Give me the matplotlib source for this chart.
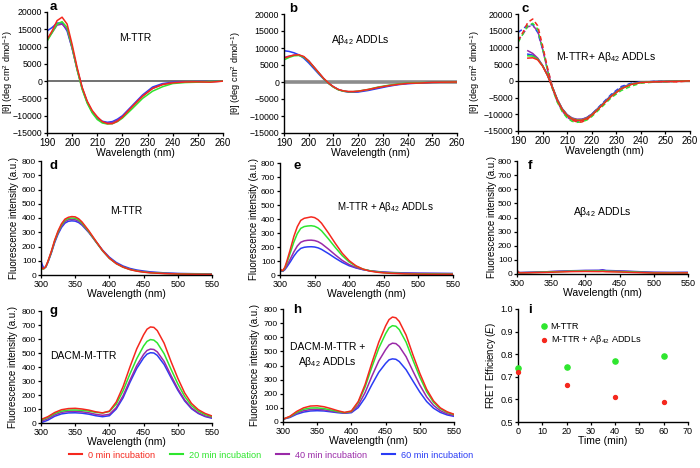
import numpy as np
import matplotlib
matplotlib.use('Agg')
import matplotlib.pyplot as plt
from matplotlib.lines import Line2D

plt.rcParams['font.family'] = ['Liberation Sans', 'DejaVu Sans']
plt.rcParams['mathtext.fontset'] = 'custom'
plt.rcParams['mathtext.rm'] = 'Liberation Sans'
plt.rcParams['mathtext.it'] = 'Liberation Sans:italic'
plt.rcParams['mathtext.bf'] = 'Liberation Sans:bold'

# colours for the incubation times
RED, GREEN, PURPLE, BLUE = '#f5281e', '#2ee62e', '#9a2aa8', '#2a3cf5'
times = ['0 min incubation', '20 min incubation', '40 min incubation', '60 min incubation']

# ---- CD spectra (a, b, c) ----
wl_cd = [190, 192, 194, 196, 198, 200, 202, 204, 206, 208, 210, 212, 214, 216, 218, 220,
         224, 228, 232, 236, 240, 245, 250, 255, 260]

# a: M-TTR
a_red = [12000, 14500, 17500, 18500, 16500, 10600, 3900, -1800, -5800, -8500, -10300, -11700,
         -12300, -12300, -11600, -10400, -7300, -4400, -2100, -1000, -500, -250, -200, -300, 0]
a_green = [11500, 14000, 16500, 17200, 15500, 9800, 3200, -2400, -6400, -9200, -11100, -12100,
           -12400, -12300, -11700, -10700, -7900, -5000, -2900, -1600, -700, -400, -300, -100, 0]
a_purple = [12000, 14000, 16200, 16500, 15000, 9500, 3300, -2200, -6200, -9000, -10900, -11800,
            -12100, -12000, -11300, -10300, -7300, -4300, -2100, -900, -400, -250, -200, -150, 0]
a_blue = [14500, 15500, 16800, 16800, 14500, 9500, 3500, -2000, -6000, -8800, -10600, -11600,
          -11900, -11700, -11000, -10000, -7000, -4000, -1700, -700, -300, -200, -150, -100, 0]

# b: Abeta42 ADDLs
b_red = [7000, 7500, 7900, 8000, 7500, 6200, 4500, 2800, 1100, -300, -1400, -2200,
         -2600, -2800, -2800, -2700, -2200, -1600, -1100, -700, -400, -300, -100, -50, 0]
b_green = [6500, 7200, 7700, 7800, 7300, 6100, 4400, 2700, 1000, -400, -1500, -2300,
           -2700, -2850, -2850, -2700, -2200, -1500, -1000, -600, -300, -200, -100, -50, 0]
b_purple = [7200, 7600, 7900, 7900, 7400, 6200, 4500, 2800, 1050, -350, -1450, -2250,
            -2650, -2850, -2850, -2750, -2300, -1650, -1100, -700, -400, -250, -100, -50, 0]
b_blue = [9200, 9000, 8600, 8000, 7000, 5600, 4000, 2400, 900, -400, -1400, -2200,
          -2700, -2950, -3000, -2950, -2500, -1900, -1300, -800, -500, -300, -100, -50, 0]

# c: M-TTR + Abeta42 ADDLs (solid); dashed = M-TTR alone
wl_cs = [194, 196, 198, 200, 202, 204, 206, 208, 210, 212, 214, 216, 218, 220,
         224, 228, 232, 236, 240, 245, 250, 255, 260]
c_red = [6800, 6900, 6300, 4400, 1600, -2000, -5800, -8600, -10400, -11400, -11800, -11800,
         -11300, -10300, -7500, -4600, -2400, -1100, -500, -300, -200, -150, 0]
c_green = [7500, 7400, 6500, 4500, 1700, -1900, -5700, -8500, -10300, -11300, -11700, -11700,
           -11200, -10200, -7400, -4500, -2300, -1000, -450, -250, -150, -100, 0]
c_purple = [9000, 8200, 6800, 4600, 1800, -1800, -5500, -8300, -10100, -11100, -11500, -11500,
            -11000, -10000, -7300, -4500, -2300, -1000, -400, -250, -150, -100, 0]
c_blue = [8000, 7700, 6700, 4600, 1700, -1900, -5600, -8400, -10200, -11200, -11600, -11500,
          -11000, -10000, -7200, -4300, -2100, -900, -350, -200, -150, -100, 0]

# ---- Trp fluorescence (d, e) ----
wl_fl = [300, 302, 304, 307, 310, 315, 320, 325, 330, 335, 340, 345, 350, 355, 360, 370,
         380, 390, 400, 410, 420, 430, 440, 450, 460, 480, 500, 525, 550]
d_red = [60, 45, 45, 60, 95, 165, 245, 310, 360, 392, 405, 410, 408, 395, 372, 310,
         240, 172, 118, 80, 55, 38, 27, 20, 15, 10, 7, 5, 4]
d_green = [55, 42, 43, 58, 92, 160, 240, 303, 352, 384, 397, 400, 398, 386, 364, 304,
           236, 170, 117, 80, 55, 39, 28, 21, 16, 11, 8, 6, 5]
d_purple = [70, 48, 44, 57, 90, 157, 235, 296, 344, 375, 388, 390, 388, 377, 356, 300,
            234, 170, 118, 82, 57, 41, 30, 23, 18, 12, 9, 7, 6]
d_blue = [100, 70, 48, 55, 88, 153, 228, 288, 334, 364, 377, 380, 378, 368, 350, 298,
          236, 175, 125, 88, 63, 46, 35, 28, 22, 15, 11, 9, 8]

e_red = [45, 35, 32, 55, 100, 185, 275, 345, 390, 405, 410, 415, 410, 395, 370, 300,
         225, 155, 102, 65, 42, 28, 20, 15, 12, 8, 6, 5, 5]
e_green = [40, 33, 30, 50, 88, 160, 235, 295, 333, 346, 350, 352, 348, 336, 316, 258,
           196, 138, 93, 62, 42, 30, 22, 17, 14, 10, 8, 7, 6]
e_purple = [35, 30, 28, 42, 68, 115, 165, 207, 234, 244, 248, 249, 246, 238, 224, 185,
            143, 104, 74, 53, 39, 30, 24, 20, 17, 13, 11, 10, 9]
e_blue = [30, 28, 26, 38, 58, 95, 135, 168, 190, 198, 201, 202, 200, 194, 183, 153,
          120, 90, 66, 50, 38, 30, 25, 21, 18, 15, 13, 12, 11]

# f: Abeta42 ADDLs alone
wl_f = [300, 302, 305, 320, 340, 360, 380, 400, 420, 425, 430, 450, 470, 485, 500, 525, 550]
f_red = [30, 10, 8, 9, 11, 14, 17, 18, 17, 18, 16, 14, 11, 9, 7, 7, 8]
f_green = [22, 10, 9, 10, 13, 16, 20, 21, 21, 22, 20, 17, 14, 11, 9, 9, 9]
f_purple = [20, 12, 10, 12, 15, 19, 22, 24, 24, 26, 23, 20, 16, 13, 11, 10, 10]
f_blue = [25, 12, 10, 12, 15, 19, 23, 25, 26, 30, 25, 22, 18, 15, 12, 11, 12]

# ---- DACM fluorescence (g, h) ----
wl_dacm = [300, 310, 320, 330, 340, 350, 360, 370, 380, 390, 400, 410, 420, 430, 440, 450,
           455, 460, 465, 470, 480, 490, 500, 510, 520, 530, 540, 550]
g_red = [25, 45, 75, 95, 103, 105, 100, 92, 80, 72, 85, 150, 260, 400, 530, 630,
         670, 686, 683, 660, 570, 440, 320, 215, 140, 95, 68, 50]
g_green = [20, 40, 68, 85, 92, 93, 90, 85, 76, 72, 82, 135, 230, 350, 460, 550,
           583, 596, 592, 572, 495, 385, 280, 190, 125, 85, 60, 45]
g_purple = [12, 30, 58, 76, 83, 84, 80, 73, 62, 55, 62, 110, 195, 305, 410, 490,
            518, 528, 525, 508, 440, 340, 245, 165, 108, 72, 50, 38]
g_blue = [2, 20, 48, 65, 72, 73, 70, 63, 52, 45, 52, 100, 180, 290, 390, 465,
          492, 502, 500, 483, 418, 325, 235, 158, 102, 68, 46, 34]

h_red = [20, 40, 75, 100, 113, 115, 108, 95, 80, 68, 78, 145, 265, 420, 565, 680,
         725, 743, 738, 712, 615, 475, 345, 232, 150, 100, 72, 55]
h_green = [20, 38, 68, 90, 99, 100, 95, 85, 74, 66, 75, 138, 248, 390, 522, 625,
           666, 682, 678, 654, 565, 438, 318, 215, 140, 94, 68, 52]
h_purple = [20, 35, 62, 80, 88, 90, 86, 78, 70, 64, 70, 118, 208, 325, 432, 512,
            545, 558, 555, 535, 462, 360, 262, 178, 118, 80, 58, 46]
h_blue = [20, 32, 55, 70, 78, 80, 78, 72, 66, 62, 66, 102, 172, 265, 352, 415,
          440, 447, 444, 428, 370, 290, 212, 145, 98, 68, 50, 40]

# ---- FRET efficiency (i) ----
t_min = [0, 20, 40, 60]
fret_mttr = [0.74, 0.745, 0.77, 0.79]
fret_mix = [0.72, 0.665, 0.61, 0.59]

W, H = 700, 468
fig = plt.figure(figsize=(7, 4.68), dpi=100)


def px_axes(x0, y0, x1, y1):
    return fig.add_axes([x0 / W, 1 - y1 / H, (x1 - x0) / W, (y1 - y0) / H])


def style(ax, xsize, ysize):
    for s in ['top', 'right']:
        ax.spines[s].set_visible(False)
    for s in ['left', 'bottom']:
        ax.spines[s].set_linewidth(1.0)
    ax.tick_params(direction='out', length=2.5, width=0.9, pad=1)
    ax.tick_params(axis='x', labelsize=xsize)
    ax.tick_params(axis='y', labelsize=ysize)


def draw_set(ax, x, series, **kw):
    for y, c in zip(series, [BLUE, PURPLE, GREEN, RED]):
        ax.plot(x, y, color=c, lw=1.1, **kw)


boxes = {
    'a': (47, 12, 223, 133), 'b': (284, 14, 457, 133), 'c': (518, 14, 690, 131),
    'd': (41, 161, 212, 275), 'e': (280, 163, 453, 275), 'f': (517, 161, 688, 274),
    'g': (41, 311, 212, 423), 'h': (283, 309, 454, 422), 'i': (518, 309, 688, 422),
}
letter_pos = {'a': (50, 10), 'b': (289, 12), 'c': (522, 12), 'd': (50, 169), 'e': (293, 169),
              'f': (528, 169), 'g': (50, 314), 'h': (293, 313), 'i': (528, 313)}
ylab_right = {'a': 15, 'b': 243, 'c': 482, 'd': 19, 'e': 259, 'f': 497,
              'g': 18, 'h': 260, 'i': 498}

axes = {k: px_axes(*v) for k, v in boxes.items()}

cd_label = r'[θ] (deg cm$^{2}$ dmol$^{-1}$)'
fl_label = 'Fluorescence intensity (a.u.)'

# CD panels
ax = axes['a']
ax.axhline(0, color='#666666', lw=1.3, zorder=1)
draw_set(ax, wl_cd, [a_blue, a_purple, a_green, a_red])
ax.text(0.5, 0.785, 'M-TTR', transform=ax.transAxes, ha='center', va='center', fontsize=7.5)

ax = axes['b']
ax.axhline(0, color='#8c8c8c', lw=2.6, zorder=1)
draw_set(ax, wl_cd, [b_blue, b_purple, b_green, b_red])
ax.text(0.44, 0.78, r'Aβ$_{42}$ ADDLs', transform=ax.transAxes, ha='center', va='center', fontsize=7.5)

ax = axes['c']
ax.axhline(0, color='black', lw=0.9, zorder=1)
draw_set(ax, wl_cd, [a_blue, a_purple, a_green, a_red], ls=(0, (3, 2)))
draw_set(ax, wl_cs, [c_blue, c_purple, c_green, c_red])
ax.text(0.51, 0.63, r'M-TTR+ Aβ$_{42}$ ADDLs', transform=ax.transAxes, ha='center', va='center', fontsize=7.5)

for k in 'abc':
    ax = axes[k]
    ax.set_xlim(190, 260)
    ax.set_ylim(-15000, 20000)
    ax.set_xticks(np.arange(190, 261, 10))
    ax.set_yticks(np.arange(-15000, 20001, 5000))
    ax.set_xlabel('Wavelength (nm)', fontsize=7.5)
    ax.set_ylabel(cd_label, fontsize=6.6)
    style(ax, 7, 6.3)

# Fluorescence panels
ax = axes['d']
draw_set(ax, wl_fl, [d_blue, d_purple, d_green, d_red])
ax.text(0.5, 0.56, 'M-TTR', transform=ax.transAxes, ha='center', va='center', fontsize=7.5)

ax = axes['e']
draw_set(ax, wl_fl, [e_blue, e_purple, e_green, e_red])
ax.text(0.61, 0.61, r'M-TTR + Aβ$_{42}$ ADDLs', transform=ax.transAxes, ha='center', va='center', fontsize=7)

ax = axes['f']
draw_set(ax, wl_f, [f_blue, f_purple, f_green, f_red])
ax.text(0.5, 0.55, r'Aβ$_{42}$ ADDLs', transform=ax.transAxes, ha='center', va='center', fontsize=7.5)

ax = axes['g']
draw_set(ax, wl_dacm, [g_blue, g_purple, g_green, g_red])
ax.text(0.245, 0.6, 'DACM-M-TTR', transform=ax.transAxes, ha='center', va='center', fontsize=7.5)

ax = axes['h']
draw_set(ax, wl_dacm, [h_blue, h_purple, h_green, h_red])
ax.text(0.26, 0.59, 'DACM-M-TTR +\n' + r'Aβ$_{42}$ ADDLs', transform=ax.transAxes,
        ha='center', va='center', fontsize=7.5, linespacing=1.3)

for k in 'defgh':
    ax = axes[k]
    ax.set_xlim(300, 550)
    ax.set_ylim(0, 800)
    ax.set_xticks(np.arange(300, 551, 50))
    ax.set_yticks(np.arange(0, 801, 100))
    ax.set_xlabel('Wavelength (nm)', fontsize=7.5)
    ax.set_ylabel(fl_label, fontsize=7)
    style(ax, 6.5, 6)

# FRET panel
ax = axes['i']
ax.scatter(t_min, fret_mttr, s=14, color=GREEN, label='M-TTR', clip_on=False, zorder=3)
ax.scatter(t_min, fret_mix, s=8, color=RED, label=r'M-TTR + Aβ$_{42}$ ADDLs', clip_on=False, zorder=3)
ax.set_xlim(0, 70)
ax.set_ylim(0.5, 1.0)
ax.set_xticks(np.arange(0, 71, 10))
ax.set_yticks(np.arange(0.5, 1.01, 0.1))
ax.set_yticklabels([f'{v:.1f}' for v in np.arange(0.5, 1.01, 0.1)])
ax.set_xlabel('Time (min)', fontsize=7.5)
ax.set_ylabel(r'FRET Efficiency ($E$)', fontsize=7)
ax.legend(loc='upper left', bbox_to_anchor=(0.1, 0.92), frameon=False, fontsize=6.6,
          handletextpad=0.1, labelspacing=0.3, borderaxespad=0, handlelength=1.2)
style(ax, 6.5, 6.5)

for k, ax in axes.items():
    ax.xaxis.set_label_coords(0.5, -0.125)
    ax.xaxis.label.set_va('top')
    x0, y0, x1, y1 = boxes[k]
    ax.yaxis.set_label_coords((ylab_right[k] - x0) / (x1 - x0), 0.5)
    lx, ly = letter_pos[k]
    fig.text(lx / W, 1 - ly / H, k, fontsize=9.5, fontweight='bold', ha='left', va='baseline')

# shared legend at the bottom
handles = [Line2D([], [], color=c, lw=1.5) for c in [RED, GREEN, PURPLE, BLUE]]
fig.legend(handles, times, loc='center', bbox_to_anchor=(271 / W, 1 - 455 / H), ncol=4,
           frameon=False, fontsize=6.6, handlelength=1.45,
           handletextpad=0.65, columnspacing=1.6, labelcolor=[RED, GREEN, PURPLE, BLUE])

fig.savefig('out.png', dpi=100)
